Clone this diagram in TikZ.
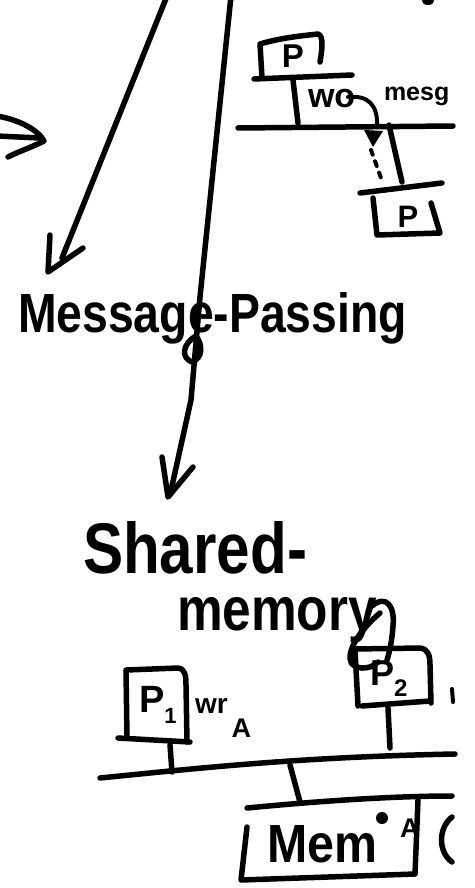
\documentclass[tikz,border=0pt]{standalone}
\usepackage{fontspec}
\usepackage{graphicx}
\setmainfont{Liberation Sans}
\tikzset{
  pen/.style={line width=5.5pt, line cap=round, line join=round},
  thinpen/.style={line width=4pt, line cap=round, line join=round},
  hand/.style={inner sep=0pt, outer sep=0pt},
}
\begin{document}
\begin{tikzpicture}[x=1pt,y=-1pt]
\useasboundingbox (0,0) rectangle (474,888);

% ---- left chevron arrow tip
\coordinate (chevA) at (-3,136);
\coordinate (chevB) at (40,138);
\draw[pen] (chevA) -- (chevB);
\draw[pen] (-3,116) .. controls (20,120) and (38,130) .. (44,141) .. controls (30,148) and (15,153) .. (8,157);

% ---- long arrow 1
\coordinate (a1s) at (167,-4);
\coordinate (a1e) at (62,258);
\draw[pen] (a1s) -- (a1e);
\draw[pen] (50,235) -- (48,272) -- (83,248);

% ---- long arrow 2
\coordinate (a2s) at (231,-4);
\coordinate (a2m) at (200,297);
\coordinate (a2n) at (191,400);
\coordinate (a2e) at (170,495);
\draw[pen] (a2s) -- (a2m) -- (a2n) -- (a2e);
\draw[pen] (162,457) -- (168,497) -- (193,467);
\draw[pen] (196,336) .. controls (182,344) and (181,358) .. (192,362) .. controls (203,358) and (203,345) .. (196,336);

% ---- top blob
\fill (428,1) ellipse (6 and 4);

% ---- top-right message passing sketch
\draw[pen] (262,78) -- (260,44) .. controls (280,38) and (300,36) .. (318,34) .. controls (324,36) and (322,50) .. (320,62);
\node[hand, anchor=base, font=\bfseries\fontsize{33}{33}\selectfont] (ptop) at (293,68) {P};
\draw[pen] (254,79) -- (352,75);
\draw[pen] (293,80) -- (298,123);
\coordinate (busLa) at (238,128);
\coordinate (busLb) at (453,126);
\draw[pen] (busLa) -- (busLb);
\node[hand, anchor=base west, font=\bfseries\fontsize{34}{34}\selectfont] (wo) at (308,108) {wo};
\node[hand, anchor=base west, font=\bfseries\fontsize{25}{25}\selectfont] (mesg) at (384,101) {mesg};
\draw[thinpen] (348,97) .. controls (368,95) and (378,105) .. (377,126);
\fill (364,130) -- (383,131) -- (373,147) -- cycle;
\draw[thinpen, dash pattern=on 5pt off 7pt] (371,150) -- (381,178);
\draw[pen] (389,125) -- (402,182);
\draw[pen] (360,193) -- (442,183);
\draw[pen] (373,198) -- (377,235) -- (440,233) -- (431,203);
\node[hand, anchor=base, font=\bfseries\fontsize{31}{31}\selectfont] (pbot) at (408,227) {P};

% ---- Message-Passing
\node[hand, anchor=base west, font=\bfseries] (mp) at (18,332) {\resizebox{389pt}{40pt}{Message-Passing}};

% ---- Shared-memory
\node[hand, anchor=base west, font=\bfseries] (sh) at (83,573) {\resizebox{224pt}{52pt}{Shared-}};
\node[hand, anchor=base west, font=\bfseries] (mem) at (177,630) {\resizebox{200pt}{33pt}{memory}};
\draw[pen] (372,606) .. controls (386,594) and (395,606) .. (393,626) .. controls (392,640) and (390,650) .. (387,660);
\draw[pen] (380,613) .. controls (362,628) and (344,652) .. (352,664) .. controls (360,671) and (372,668) .. (378,662);

% ---- P2 box
\draw[pen] (355,650) -- (358,706);
\draw[pen] (355,649) -- (420,648) .. controls (428,649) and (430,655) .. (430,665) -- (431,703);
\draw[pen] (362,706) -- (430,701);
\node[hand, anchor=base west, font=\bfseries\fontsize{36}{36}\selectfont] (p2) at (370,685) {P\raisebox{-11pt}{\fontsize{24}{24}\selectfont 2}};
\draw[pen] (388,708) -- (390,748);
\draw[thinpen] (452,689) -- (453,702);

% ---- P1 box
\draw[pen] (127,738) -- (126,670) -- (178,668) .. controls (185,669) and (186,675) .. (186,685) -- (187,742);
\draw[pen] (118,738) -- (190,742);
\node[hand, anchor=base west, font=\bfseries\fontsize{38}{38}\selectfont] (p1) at (139,712) {P\raisebox{-11pt}{\fontsize{22}{22}\selectfont 1}};
\node[hand, anchor=base west, font=\bfseries\fontsize{28}{28}\selectfont] (wr) at (195,713) {wr\hspace{4pt}\raisebox{-24pt}{\fontsize{27}{27}\selectfont A}};
\draw[pen] (170,745) -- (172,772);

% ---- shared bus and memory
\coordinate (busMa) at (100,778);
\coordinate (busMb) at (455,754);
\draw[pen] (busMa) .. controls (200,768) and (300,757) .. (busMb);
\draw[pen] (290,765) -- (300,802);
\draw[pen] (247,808) .. controls (330,800) and (400,796) .. (452,796);
\draw[pen] (247,827) -- (241,880) -- (415,874) -- (418,800);
\node[hand, anchor=base west, font=\bfseries] (memtxt) at (267,862) {\resizebox{110pt}{37pt}{Mem}};
\fill (382,818) circle (6);
\node[hand, anchor=base west, font=\bfseries\fontsize{27}{27}\selectfont] (aa) at (400,837) {A};
\draw[pen] (452,817) .. controls (438,828) and (438,852) .. (452,862);
\end{tikzpicture}
\end{document}
